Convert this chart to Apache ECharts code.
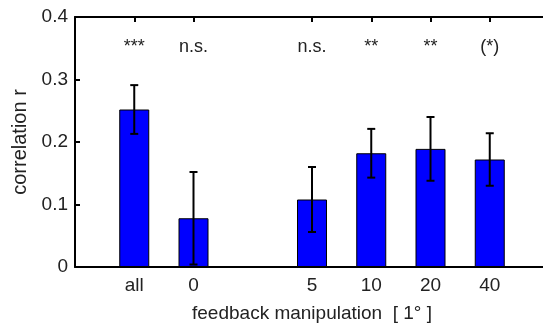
<!DOCTYPE html>
<html>
<head>
<meta charset="utf-8">
<script src="https://cdn.jsdelivr.net/npm/echarts@6/dist/echarts.min.js"></script>
<style>html,body{margin:0;padding:0;background:#fff}#c{width:543px;height:325px}</style>
</head>
<body>
<div id="c"></div>
<script>
// categories (empty strings are spacer slots on the axis)
var categories = ['', 'all', '0', '', '5', '10', '20', '40', ''];
var values     = [null, 0.252, 0.078, null, 0.108, 0.182, 0.189, 0.172, null];
var errors     = [null, 0.039, 0.074, null, 0.052, 0.039, 0.051, 0.042, null];
var signif     = ['', '***', 'n.s.', '', 'n.s.', '**', '**', '(*)', ''];
var yTicks     = [0, 0.1, 0.2, 0.3, 0.4];
var sigLevel   = 0.352;

var FONT = '"Liberation Sans", Arial, Helvetica, sans-serif';
var chart = echarts.init(document.getElementById('c'), null, {renderer: 'canvas'});

var barData = values.map(function (v) { return v == null ? '-' : v; });
var errData = [];
values.forEach(function (v, i) {
  if (v != null) errData.push([i, v - errors[i], v + errors[i]]);
});
var sigData = [];
signif.forEach(function (s, i) { if (s) sigData.push([i, sigLevel, s]); });

function tickShown(i) { return categories[i] !== ''; }

chart.setOption({
  animation: false,
  grid: {left: 75, right: -6, top: 17, bottom: 58, containLabel: false, outerBoundsMode: 'none'},
  xAxis: [{
    type: 'category',
    data: categories,
    boundaryGap: false,
    axisLine: {lineStyle: {color: '#000', width: 2}},
    axisTick: {inside: true, length: 5, lineStyle: {color: '#000', width: 2}, interval: function (i) { return tickShown(i); }},
    axisLabel: {color: '#222', fontSize: 19, fontFamily: FONT, margin: 9, interval: 0},
    name: 'feedback manipulation  [ 1° ]',
    nameLocation: 'middle',
    nameGap: 37,
    nameTextStyle: {color: '#222', fontSize: 19, fontFamily: FONT},
    splitLine: {show: false}
  }, {
    type: 'category',
    position: 'top',
    data: categories,
    boundaryGap: false,
    axisLine: {lineStyle: {color: '#000', width: 2}},
    axisTick: {inside: true, length: 5, lineStyle: {color: '#000', width: 2}, interval: function (i) { return tickShown(i); }},
    axisLabel: {show: false},
    splitLine: {show: false}
  }],
  yAxis: {
    type: 'value',
    min: 0, max: 0.4, interval: 0.1,
    axisLine: {show: true, lineStyle: {color: '#000', width: 2}},
    axisTick: {show: true, inside: true, length: 5, lineStyle: {color: '#000', width: 2}},
    axisLabel: {color: '#222', fontSize: 19, fontFamily: FONT, margin: 7,
      formatter: function (v) {
        for (var k = 0; k < yTicks.length; k++) if (Math.abs(yTicks[k] - v) < 1e-9) return String(yTicks[k]);
        return '';
      }},
    splitLine: {show: false},
    name: 'correlation r',
    nameLocation: 'middle',
    nameGap: 45,
    nameRotate: 90,
    nameTextStyle: {color: '#222', fontSize: 20, fontFamily: FONT}
  },
  series: [{
    type: 'bar',
    data: barData,
    barWidth: 30,
    itemStyle: {color: '#0000ff', borderColor: '#000', borderWidth: 1},
    z: 2
  }, {
    type: 'custom',
    data: errData,
    z: 3,
    renderItem: function (params, api) {
      var x = api.value(0);
      var lo = api.coord([x, api.value(1)]);
      var hi = api.coord([x, api.value(2)]);
      var cap = 4;
      var st = {stroke: '#000', lineWidth: 2};
      return {type: 'group', children: [
        {type: 'line', shape: {x1: lo[0], y1: lo[1], x2: hi[0], y2: hi[1]}, style: st},
        {type: 'line', shape: {x1: hi[0] - cap, y1: hi[1], x2: hi[0] + cap, y2: hi[1]}, style: st},
        {type: 'line', shape: {x1: lo[0] - cap, y1: lo[1], x2: lo[0] + cap, y2: lo[1]}, style: st}
      ]};
    }
  }, {
    type: 'custom',
    data: sigData,
    z: 4,
    renderItem: function (params, api) {
      var p = api.coord([api.value(0), api.value(1)]);
      return {type: 'text', x: p[0], y: p[1], style: {
        text: sigData[params.dataIndex][2], fill: '#222', fontSize: 18, fontFamily: FONT,
        align: 'center', verticalAlign: 'middle'}};
    }
  }]
});
</script>
</body>
</html>
